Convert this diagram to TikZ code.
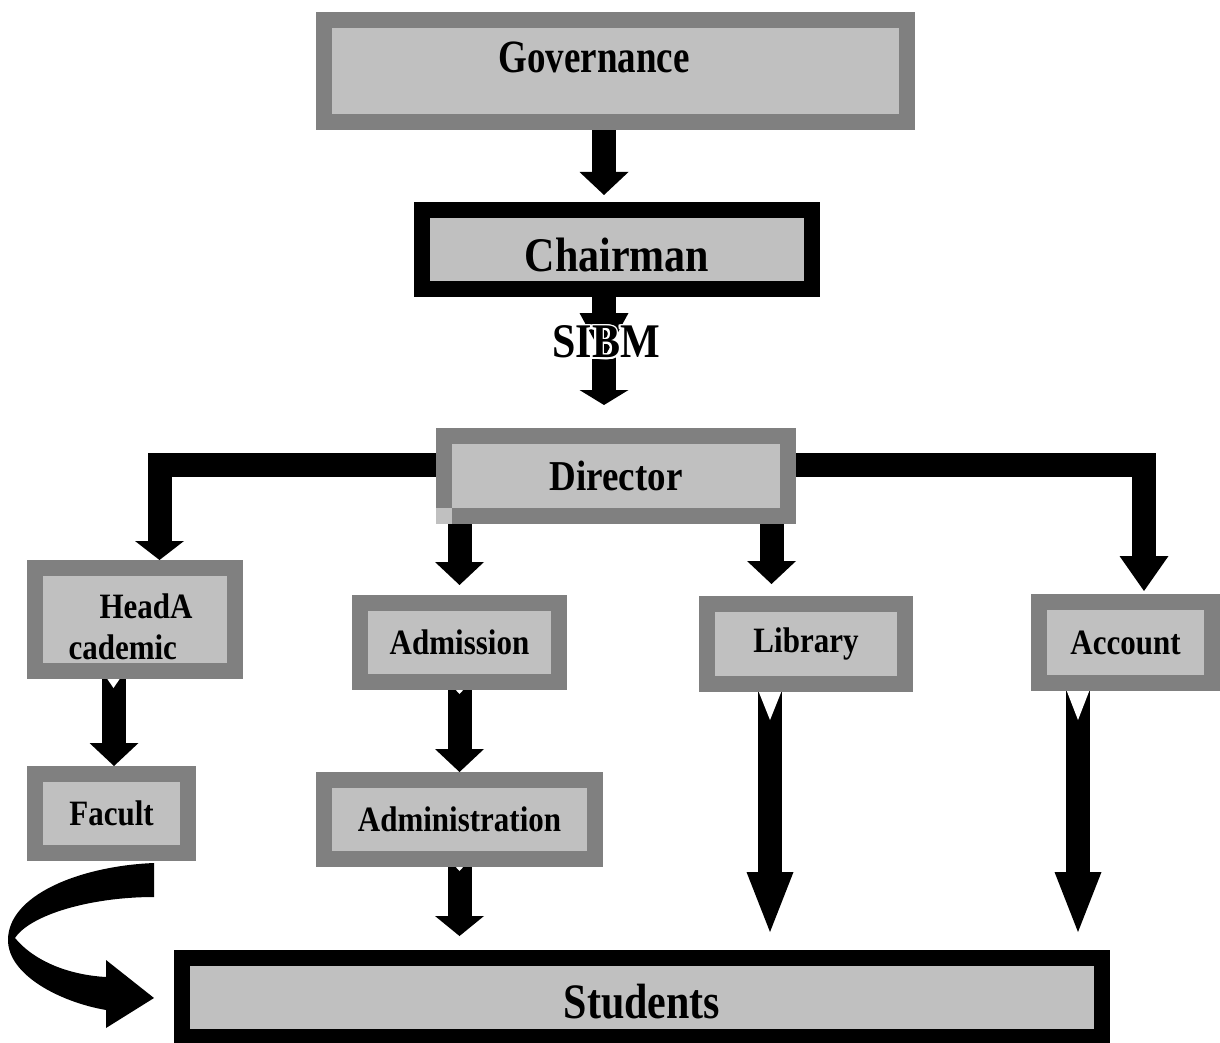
\documentclass[tikz,border=0pt]{standalone}
\usepackage{fontspec}
\setmainfont{Liberation Serif}
\usepackage{graphicx}
\usepackage{contour}
\contourlength{1.5pt}
\usetikzlibrary{arrows.meta,backgrounds}
\definecolor{bordergray}{HTML}{808080}
\definecolor{boxfill}{HTML}{C0C0C0}
\newcommand\tallx[1]{\scalebox{1}[1.15]{#1}}
\tikzset{
  graybox/.style={draw=bordergray, fill=boxfill, line width=16pt, inner sep=0pt,
    font=\bfseries\fontsize{31}{37}\selectfont},
  blackbox/.style={graybox, draw=black},
  boxlabel/.style={inner sep=0pt, font=\bfseries\fontsize{31}{41}\selectfont},
  blockarrow/.style={line width=24pt, line join=miter,
    -{Triangle[width=49pt,length=#1,line width=0pt]}},
  blockarrow/.default=23pt,
  bigarrow/.style={line width=24pt, -{Triangle[width=47pt,length=60pt,line width=0pt]}},
  notch/.style={fill=white}
}
\begin{document}
\begin{tikzpicture}[x=1pt,y=-1pt]
\useasboundingbox (0,0) rectangle (1220,1043);

% boxes
\node[graybox, minimum width=583pt, minimum height=102pt,
  label={[boxlabel, font=\bfseries\fontsize{37}{44}\selectfont, xshift=-21.5pt, yshift=14pt]center:\scalebox{1}[1.25]{Governance}}]
  (gov) at (615.5,71) {};
\node[blackbox, minimum width=390pt, minimum height=79pt,
  label={[boxlabel, font=\bfseries\fontsize{42}{48}\selectfont, yshift=-5pt]center:\tallx{Chairman}}]
  (chair) at (617,249.5) {};
\node[graybox, minimum width=344pt, minimum height=80pt,
  font=\bfseries\fontsize{37}{44}\selectfont] (dir) at (616,476) {\tallx{Director}};
\node[graybox, minimum width=200pt, minimum height=103pt,
  label={[boxlabel, align=left, xshift=-4.5pt, yshift=-7pt]center:\hspace*{31pt}\tallx{HeadA}\\\tallx{cademic}}]
  (ha) at (135,619.5) {};
\node[graybox, minimum width=199pt, minimum height=79pt] (adm) at (459.5,642.5) {\tallx{Admission}};
\node[graybox, minimum width=198pt, minimum height=80pt] (lib) at (806,644) {\tallx{Library}};
\node[graybox, minimum width=173pt, minimum height=81pt] (acc) at (1125.5,642.5) {\tallx{Account}};
\node[graybox, minimum width=153pt, minimum height=79pt] (fac) at (111.5,813.5) {\tallx{Facult}};
\node[graybox, minimum width=271pt, minimum height=79pt] (admin) at (459.5,819.5) {\tallx{Administration}};
\node[blackbox, minimum width=920pt, minimum height=79pt,
  label={[boxlabel, font=\bfseries\fontsize{42}{48}\selectfont, yshift=-4.5pt]center:\scalebox{1}[1.18]{Students}}]
  (stud) at (642,997.5) {};

\fill[boxfill] (436,508) rectangle (452,524);

% helper coordinates
\coordinate (sibmout) at (604,357);
\coordinate (hain) at ([xshift=24.5pt]ha.north);
\coordinate (accin) at ([xshift=18.5pt]acc.north);
\coordinate (libin) at ([xshift=-34.5pt]lib.north);
\coordinate (haout) at ([xshift=-21pt]ha.south);
\coordinate (libout) at ([xshift=-36pt]lib.south);
\coordinate (accout) at ([xshift=-47.5pt]acc.south);

\begin{pgfonlayer}{background}
  \draw[blockarrow] ([xshift=-11.5pt]gov.south) -- ([xshift=-13pt,yshift=7pt]chair.north);
  \draw[blockarrow=15pt] (sibmout) -- ([xshift=-12pt,yshift=23pt]dir.north);
  \draw[blockarrow=45pt] ([xshift=-13pt]chair.south) -- ++(0,61);
  \draw[blockarrow=19pt] ([yshift=11.5pt]dir.west) -| (hain);
  \draw[blockarrow=35pt, shorten >=3pt] ([yshift=11.5pt]dir.east) -| (accin);
  \draw[blockarrow, shorten >=10pt] (adm.north |- dir.south) -- (adm.north);
  \draw[blockarrow, shorten >=12pt] (libin |- dir.south) -- (libin);
  \draw[blockarrow] (haout) -- (haout |- fac.north);
  \draw[blockarrow] (adm.south) -- (admin.north);
  \draw[blockarrow=20pt, shorten >=14pt] (admin.south) -- (admin.south |- stud.north);
  \draw[bigarrow, shorten >=18pt] (libout) -- (libout |- stud.north);
  \draw[bigarrow, shorten >=18pt] (accout) -- (accout |- stud.north);
  % notches
  \fill[notch] (758,690) -- (782,690) -- (770,720) -- cycle;
  \fill[notch] (1066,689) -- (1090,689) -- (1078,720) -- cycle;
  \fill[notch] (106,677) -- (121,677) -- (113.5,688) -- cycle;
  \fill[notch] (454,688) -- (465,688) -- (459.5,694) -- cycle;
  \fill[notch] (454,865) -- (465,865) -- (459.5,871) -- cycle;
\end{pgfonlayer}

\node[inner sep=0pt, font=\bfseries\fontsize{42}{48}\selectfont] (sibm) at (606,343) {\tallx{\contour{white}{SIBM}}};

% curved arrow from Facult to Students
\fill[black] (154,863) .. controls (80,866) and (8,895) .. (8,940)
  .. controls (8,975) and (60,1002) .. (106,1010)
  -- (106,1028) -- (154,998) -- (106,960) -- (106,977)
  .. controls (70,975) and (35,962) .. (15,938)
  .. controls (30,915) and (90,897) .. (154,897) -- cycle;
\end{tikzpicture}
\end{document}
